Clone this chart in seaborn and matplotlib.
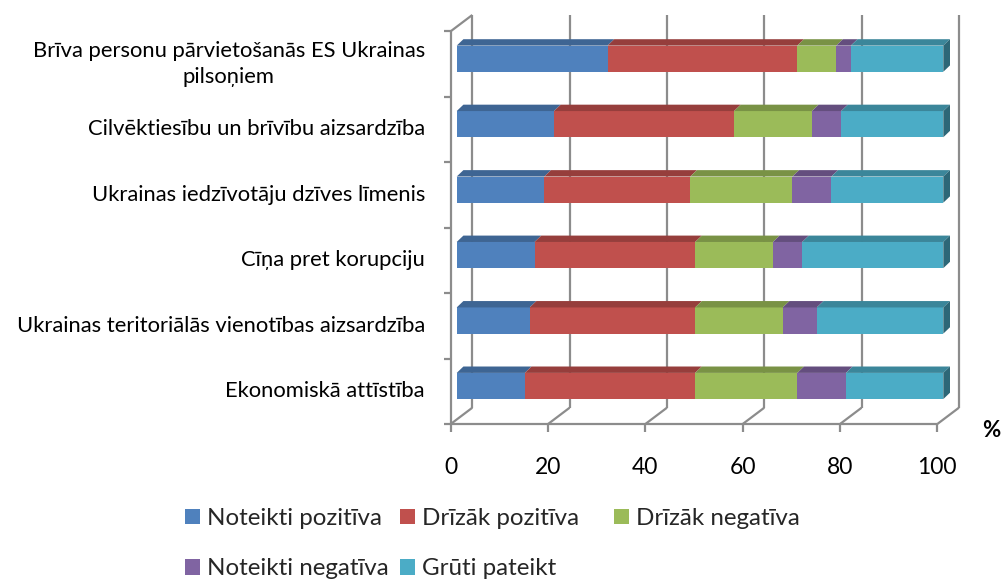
import numpy as np
import pandas as pd
import matplotlib
matplotlib.use("Agg")
import matplotlib.pyplot as plt
import matplotlib.colors as mcolors
from matplotlib.patches import Polygon, Patch
import seaborn as sns

# data (percent)
categories = [
    "Brīva personu pārvietošanās ES Ukrainas\npilsoņiem",
    "Cilvēktiesību un brīvību aizsardzība",
    "Ukrainas iedzīvotāju dzīves līmenis",
    "Cīņa pret korupciju",
    "Ukrainas teritoriālās vienotības aizsardzība",
    "Ekonomiskā attīstība",
]
series = ["Noteikti pozitīva", "Drīzāk pozitīva", "Drīzāk negatīva",
          "Noteikti negatīva", "Grūti pateikt"]
noteikti_pozitiva = [31, 20, 18, 16, 15, 14]
drizak_pozitiva = [39, 37, 30, 33, 34, 35]
drizak_negativa = [8, 16, 21, 16, 18, 21]
noteikti_negativa = [3, 6, 8, 6, 7, 10]
gruti_pateikt = [19, 21, 23, 29, 26, 20]
x_ticks = [0, 20, 40, 60, 80, 100]
colors = ["#4F81BD", "#C0504D", "#9BBB59", "#8064A2", "#4BACC6"]

df = pd.DataFrame({
    "kategorija": categories,
    series[0]: noteikti_pozitiva,
    series[1]: drizak_pozitiva,
    series[2]: drizak_negativa,
    series[3]: noteikti_negativa,
    series[4]: gruti_pateikt,
})
cum = df[series].cumsum(axis=1)

sns.set_theme(style="white")
plt.rcParams["font.family"] = ["Lato", "DejaVu Sans"]

W, H = 1004, 579
fig = plt.figure(figsize=(W / 100, H / 100), dpi=100)

# axes = front face of the bars (pixel layout of the reference)
x0, x1 = 456.7, 943.3
row0, row_step = 58.7, 65.46
y_top, y_bot = row0 - 0.5 * row_step, row0 + 5.5 * row_step
ax = fig.add_axes([x0 / W, 1 - y_bot / H, (x1 - x0) / W, (y_bot - y_top) / H])
px_x = (x1 - x0) / 100.0
px_y = row_step


def off(dx_px, dy_px):
    # pixel offset -> data offset (y axis is inverted, down is +)
    return dx_px / px_x, dy_px / px_y


fdx, fdy = off(-6, 5.3)      # front wall / floor edge
bdx, bdy = off(15.6, -11)    # back wall
ddx, ddy = off(6.7, -6.4)    # depth of a bar

# stacked bars: draw cumulative totals from the longest down
for s, c in reversed(list(zip(series, colors))):
    sns.barplot(x=cum[s], y=df["kategorija"], color=c, width=0.4, orient="h",
                ax=ax, saturation=1, linewidth=0, zorder=3)

ax.set_xlim(0, 100)
ax.set_ylim(5.5, -0.5)
ax.set_axis_off()

# 3d look: top faces + side face of the last segment
half = 0.2
for i in range(len(categories)):
    left = 0
    for j, s in enumerate(series):
        right = cum[s][i]
        top_col = np.array(mcolors.to_rgb(colors[j])) * 0.78
        ax.add_patch(Polygon([(left, i - half), (right, i - half),
                              (right + ddx, i - half + ddy), (left + ddx, i - half + ddy)],
                             closed=True, fc=top_col, ec="none", zorder=4, clip_on=False))
        left = right
    side_col = np.array(mcolors.to_rgb(colors[-1])) * 0.6
    ax.add_patch(Polygon([(left, i - half), (left + ddx, i - half + ddy),
                          (left + ddx, i + half + ddy), (left, i + half)],
                         closed=True, fc=side_col, ec="none", zorder=4, clip_on=False))

# frame / grid lines
gc = "#8C8C8C"
lw = 1.6
kw = dict(color=gc, lw=lw, clip_on=False, zorder=1, solid_capstyle="butt")
for t in x_ticks:
    ax.plot([t + bdx, t + bdx], [-0.5 + bdy, 5.5 + bdy], **kw)
    ax.plot([t + fdx, t + bdx], [5.5 + fdy, 5.5 + bdy], **kw)
    ax.plot([t + fdx, t + fdx], [5.5 + fdy, 5.5 + fdy + 8 / px_y], **kw)
ax.plot([fdx - 7 / px_x, 100 + fdx], [5.5 + fdy, 5.5 + fdy], **kw)
ax.plot([fdx, fdx], [-0.5 + fdy, 5.5 + fdy], **kw)
ax.plot([fdx, bdx], [-0.5 + fdy, -0.5 + bdy], **kw)
for k in range(len(categories)):
    ax.plot([fdx - 7 / px_x, fdx], [k - 0.5 + fdy, k - 0.5 + fdy], **kw)

# category labels
for i, lab in enumerate(categories):
    ax.text(fdx - 25.7 / px_x, i + fdy, lab, ha="right", va="center",
            multialignment="center", fontsize=15.8, linespacing=1.35, color="black")

# x tick labels
for t in x_ticks:
    ax.text(t + fdx, 5.5 + fdy + 43 / px_y, str(t), ha="center", va="center",
            fontsize=16.5, color="black")
ax.text((991.5 - x0) / px_x, (430.5 - row0) / px_y, "%", ha="center", va="center",
        fontsize=16, fontweight="bold", color="black")

# legend: three columns, Excel style
handles = [Patch(fc=c, ec="none") for c in colors]
columns = [[0, 3], [1, 4], [2]]
col_x = [185, 400, 614]
for cols, cx in zip(columns, col_x):
    fig.legend([handles[k] for k in cols], [series[k] for k in cols],
               loc="upper left", bbox_to_anchor=(cx / W, 1 - 508 / H),
               bbox_transform=fig.transFigure, frameon=False, fontsize=17.4,
               handlelength=0.62, handleheight=0.62, handletextpad=0.3,
               labelspacing=1.22, borderpad=0, borderaxespad=0)

fig.savefig("out.png", dpi=100)
